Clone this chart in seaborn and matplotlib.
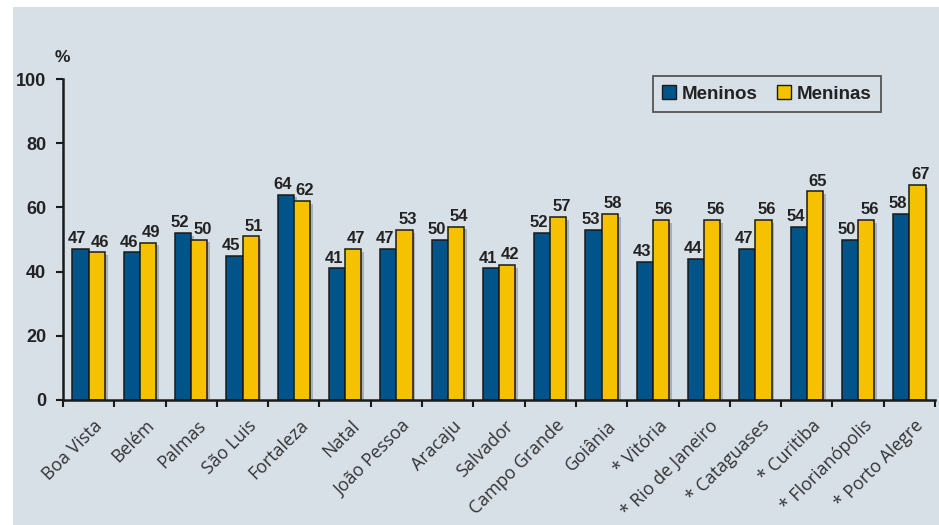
import matplotlib
matplotlib.use('Agg')
import matplotlib.pyplot as plt
import seaborn as sns
import pandas as pd
from matplotlib.patches import Rectangle, Patch
import matplotlib.patheffects as pe
import matplotlib.transforms as mtransforms

cidades = ['Boa Vista', 'Belém', 'Palmas', 'São Luis', 'Fortaleza', 'Natal',
           'João Pessoa', 'Aracaju', 'Salvador', 'Campo Grande', 'Goiânia',
           '* Vitória', '* Rio de Janeiro', '* Cataguases', '* Curitiba',
           '* Florianópolis', '* Porto Alegre']
meninos = [47, 46, 52, 45, 64, 41, 47, 50, 41, 52, 53, 43, 44, 47, 54, 50, 58]
meninas = [46, 49, 50, 51, 62, 47, 53, 54, 42, 57, 58, 56, 56, 56, 65, 56, 67]
series = ['Meninos', 'Meninas']
cores = ['#005489', '#F6C200']
yticks = [0, 20, 40, 60, 80, 100]

sns.set_theme(style='white')
plt.rcParams['font.family'] = ['Liberation Sans', 'DejaVu Sans']

df = pd.DataFrame({
    'cidade': cidades * 2,
    'valor': meninos + meninas,
    'sexo': [series[0]] * len(cidades) + [series[1]] * len(cidades),
})

W, H = 939, 525
fig = plt.figure(figsize=(W / 100, H / 100), dpi=100)
fig.patch.set_facecolor('white')
bg = Rectangle((13 / W, 0), 1, 1 - 7 / H, transform=fig.transFigure,
               facecolor='#D7DFE7', edgecolor='none', zorder=-10)
fig.patches.append(bg)

ax = fig.add_axes([63 / W, 1 - 400 / H, 872 / W, 321 / H])
ax.set_zorder(5)
ax.set_facecolor('none')

sns.barplot(data=df, x='cidade', y='valor', hue='sexo', hue_order=series,
            palette=cores, width=0.63, edgecolor='#1a1a1a', linewidth=1.1,
            saturation=1, ax=ax, legend=False)

for p in ax.patches:
    p.set_path_effects([pe.SimplePatchShadow(offset=(2, -2), shadow_rgbFace='#8a8f94', alpha=0.6),
                        pe.Normal()])

pad_pts = 2
shifts = [-2.3, 2.3]
for cont, dx in zip(ax.containers, shifts):
    texts = ax.bar_label(cont, fmt='%d', padding=pad_pts, fontsize=12, fontweight='bold',
                         color='#222222')
    for t in texts:
        t.xyann = (dx, pad_pts)

ax.set_ylim(0, 100)
ax.set_xlim(-0.5, len(cidades) - 0.5)
ax.set_yticks(yticks)
ax.set_yticklabels([str(v) for v in yticks], fontsize=13, fontweight='bold', color='#222222')
ax.tick_params(axis='y', which='major', left=True, length=5, width=1.5, color='#1a1a1a', pad=7)

ax.set_xticks(range(len(cidades)))
ax.set_xticklabels(cidades, rotation=45, ha='right', va='top', rotation_mode='anchor',
                   fontsize=12.8, family=['Open Sans', 'DejaVu Sans'], color='#333333')
ax.tick_params(axis='x', which='major', bottom=False, length=0, pad=12)
offset = mtransforms.ScaledTranslation(5 / 100, 0, fig.dpi_scale_trans)
for lbl in ax.get_xticklabels():
    lbl.set_transform(lbl.get_transform() + offset)
ax.set_xticks([i + 0.5 for i in range(-1, len(cidades))], minor=True)
ax.tick_params(axis='x', which='minor', bottom=True, length=5, width=1.5, color='#1a1a1a')

ax.set_xlabel('')
ax.set_ylabel('')
for s in ['top', 'right']:
    ax.spines[s].set_visible(False)
for s in ['left', 'bottom']:
    ax.spines[s].set_color('#1a1a1a')
    ax.spines[s].set_linewidth(1.8)

fig.text(62 / W, 1 - 58 / H, '%', ha='center', va='center', fontsize=12.5,
         fontweight='bold', color='#222222')

handles = [Patch(facecolor=c, edgecolor='#1a1a1a', linewidth=1) for c in cores]
leg = ax.legend(handles, series, ncol=2, loc='upper left',
                bbox_to_anchor=((653 - 63) / 872, (400 - 76) / 321),
                frameon=True, fancybox=False, facecolor='none', edgecolor='#333333',
                prop={'weight': 'bold', 'size': 13.5}, handlelength=0.75, handleheight=0.75,
                handletextpad=0.3, columnspacing=1.0, borderpad=0.5, borderaxespad=0)
leg.get_frame().set_linewidth(1.3)
for t in leg.get_texts():
    t.set_color('#222222')

fig.savefig('out.png', dpi=100)
